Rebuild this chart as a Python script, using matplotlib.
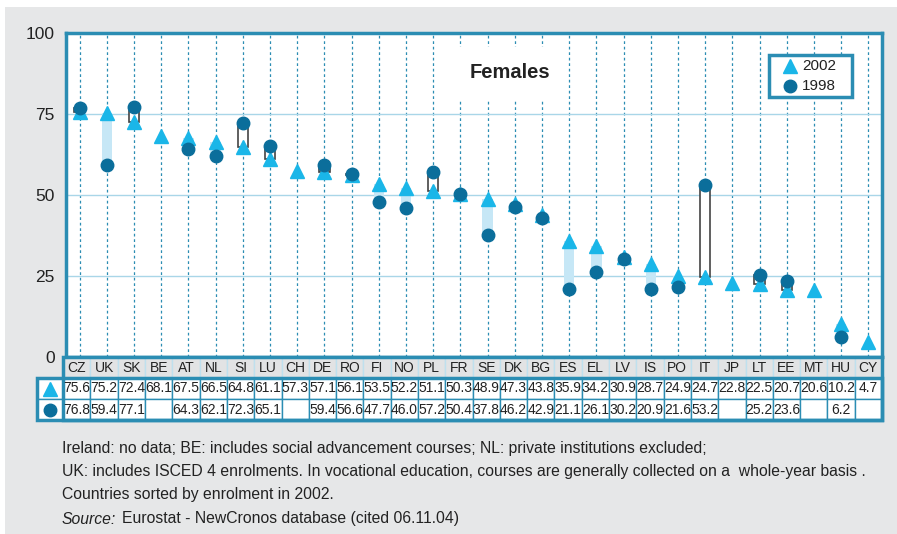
import numpy as np
import matplotlib.pyplot as plt
from matplotlib.patches import Rectangle

countries = ['CZ', 'UK', 'SK', 'BE', 'AT', 'NL', 'SI', 'LU', 'CH', 'DE', 'RO', 'FI', 'NO', 'PL',
             'FR', 'SE', 'DK', 'BG', 'ES', 'EL', 'LV', 'IS', 'PO', 'IT', 'JP', 'LT', 'EE', 'MT',
             'HU', 'CY']
y2002 = [75.6, 75.2, 72.4, 68.1, 67.5, 66.5, 64.8, 61.1, 57.3, 57.1, 56.1, 53.5, 52.2, 51.1,
         50.3, 48.9, 47.3, 43.8, 35.9, 34.2, 30.9, 28.7, 24.9, 24.7, 22.8, 22.5, 20.7, 20.6,
         10.2, 4.7]
y1998 = [76.8, 59.4, 77.1, np.nan, 64.3, 62.1, 72.3, 65.1, np.nan, 59.4, 56.6, 47.7, 46.0, 57.2,
         50.4, 37.8, 46.2, 42.9, 21.1, 26.1, 30.2, 20.9, 21.6, 53.2, np.nan, 25.2, 23.6, np.nan,
         6.2, np.nan]

W, H = 897, 534
GRAY = '#e6e7e8'
BORDER = '#2b8db3'
TRI = '#1ab6e8'
CIRC = '#0b6e9b'
LIGHT = '#c6e7f6'
TXT = '#222222'

plt.rcParams['font.family'] = ['Liberation Sans', 'DejaVu Sans']

fig = plt.figure(figsize=(W / 100, H / 100), dpi=100)
fig.patches.append(Rectangle((5 / W, 0), 1, 1 - 7 / H, transform=fig.transFigure,
                             facecolor=GRAY, edgecolor='none', zorder=-10))

n = len(countries)
x = np.arange(n)
a = np.array(y2002)
b = np.array(y1998)

ax = fig.add_axes([66 / W, 1 - 357 / H, 816 / W, 324 / H])
ax.set_facecolor('white')
ax.set_xlim(-0.5, n - 0.5)
ax.set_ylim(0, 100)
ax.set_xticks([])
ax.set_yticks([0, 25, 50, 75, 100])
ax.tick_params(axis='y', length=0, pad=8, labelsize=12.5, labelcolor=TXT)
for s in ax.spines.values():
    s.set_color(BORDER)
    s.set_linewidth(2.5)

for i in x:
    ax.axvline(i, color=BORDER, lw=0.9, ls=(0, (2.2, 2.2)), zorder=1)
for yy in [25, 50, 75]:
    ax.axhline(yy, color='#a9d6e8', lw=1, zorder=1)

ok = ~np.isnan(b)
up = ok & (a >= b)
down = ok & (a < b)
ax.bar(x[up], (a - b)[up], bottom=b[up], width=0.38, color=LIGHT, zorder=2)
ax.bar(x[down], (b - a)[down], bottom=a[down], width=0.38, facecolor='white',
       edgecolor='#444444', linewidth=1.2, zorder=2)
ax.plot(x, a, ls='none', marker='^', ms=10, color=TRI, zorder=4)
ax.plot(x, b, ls='none', marker='o', ms=9, color=CIRC, zorder=5)

ax.text((510 - 66) / 816, 1 - (73 - 33) / 324, 'Females', transform=ax.transAxes,
        ha='center', va='center', fontsize=14.5, fontweight='bold', color=TXT,
        bbox=dict(facecolor='white', edgecolor='none', pad=12), zorder=6)

# legend box
ax.add_patch(Rectangle(((769 - 66) / 816, 1 - (97 - 33) / 324), 83 / 816, 42 / 324,
                       transform=ax.transAxes, facecolor='white', edgecolor=BORDER, lw=2.5,
                       zorder=7))
lx = (790 - 66) / 816
ly = [1 - (66 - 33) / 324, 1 - (86 - 33) / 324]
ax.plot([lx], [ly[0]], transform=ax.transAxes, ls='none', marker='^', ms=9.5, color=TRI,
        zorder=8, clip_on=False)
ax.plot([lx], [ly[1]], transform=ax.transAxes, ls='none', marker='o', ms=9, color=CIRC,
        zorder=8, clip_on=False)
for yy, lab in zip(ly, ['2002', '1998']):
    ax.text((802 - 66) / 816, yy, lab, transform=ax.transAxes, ha='left', va='center',
            fontsize=11, color=TXT, zorder=8)

# table under the chart
tab = fig.add_axes([37 / W, 1 - 420 / H, 845 / W, 63 / H])
tab.set_xlim(-1.46, n - 0.5)
tab.set_ylim(0, 3)
tab.axis('off')

for i in x:
    tab.add_patch(Rectangle((i - 0.5, 2), 1, 1, facecolor='#e2e3e4', edgecolor='#bfe0ee', lw=1))
    tab.text(i, 2.5, countries[i], ha='center', va='center', fontsize=10, color=TXT)
    for row, vals in [(1, a), (0, b)]:
        tab.add_patch(Rectangle((i - 0.5, row), 1, 1, facecolor='white', edgecolor=BORDER, lw=1))
        if not np.isnan(vals[i]):
            tab.text(i, row + 0.5, '%.1f' % vals[i], ha='center', va='center', fontsize=10,
                     color=TXT)

for row in [1, 0]:
    tab.add_patch(Rectangle((-1.46, row), 0.96, 1, facecolor='white', edgecolor=BORDER, lw=1))
tab.plot([-0.98], [1.5], ls='none', marker='^', ms=10, color=TRI, clip_on=False)
tab.plot([-0.98], [0.5], ls='none', marker='o', ms=9, color=CIRC, clip_on=False)
tab.add_patch(Rectangle((-0.5, 0), n, 3, fill=False, edgecolor=BORDER, lw=2.5, clip_on=False))
tab.add_patch(Rectangle((-1.46, 0), n + 0.96, 2, fill=False, edgecolor=BORDER, lw=2.5,
                        clip_on=False))
tab.plot([-0.5, n - 0.5], [2, 2], color=BORDER, lw=2, clip_on=False)

notes = ['Ireland: no data; BE: includes social advancement courses; NL: private institutions excluded;',
         'UK: includes ISCED 4 enrolments. In vocational education, courses are generally collected on a  whole-year basis .',
         'Countries sorted by enrolment in 2002.']
FS = 11.3
for k, line in enumerate(notes):
    fig.text(62 / W, 1 - (448 + 23.5 * k) / H, line, ha='left', va='center', fontsize=FS,
             color=TXT)
src = fig.text(62 / W, 1 - 519 / H, 'Source:', ha='left', va='center', fontsize=FS,
               style='italic', color=TXT)
r = fig.canvas.get_renderer()
x1 = src.get_window_extent(r).x1
fig.text((x1 + 6) / W, 1 - 519 / H, 'Eurostat - NewCronos database (cited 06.11.04)', ha='left',
         va='center', fontsize=FS, color=TXT)

fig.savefig('out.png', dpi=100)
